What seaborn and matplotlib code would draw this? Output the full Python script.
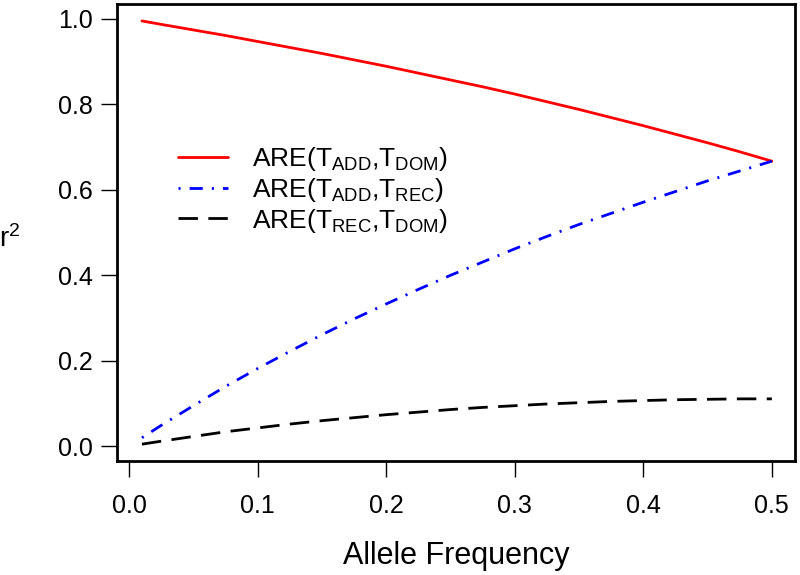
import pandas as pd
import seaborn as sns
import matplotlib.pyplot as plt

# allele frequency grid and r^2 values
allele_freq = [0.01, 0.025, 0.05, 0.075, 0.10, 0.125, 0.15, 0.175, 0.20, 0.225, 0.25,
               0.275, 0.30, 0.325, 0.35, 0.375, 0.40, 0.425, 0.45, 0.475, 0.50]
are_add_dom = [0.995, 0.987, 0.974, 0.961, 0.947, 0.933, 0.919, 0.904, 0.889, 0.873, 0.857,
               0.841, 0.824, 0.806, 0.788, 0.769, 0.750, 0.730, 0.710, 0.689, 0.667]
are_add_rec = [0.020, 0.049, 0.095, 0.140, 0.182, 0.222, 0.261, 0.298, 0.333, 0.367, 0.400,
               0.431, 0.462, 0.491, 0.519, 0.545, 0.571, 0.596, 0.621, 0.644, 0.667]
are_rec_dom = [0.005, 0.012, 0.023, 0.034, 0.043, 0.052, 0.060, 0.067, 0.074, 0.080, 0.086,
               0.091, 0.095, 0.099, 0.102, 0.105, 0.107, 0.109, 0.110, 0.111, 0.111]

labels = [r"ARE(T$_{\mathrm{ADD}}$,T$_{\mathrm{DOM}}$)",
          r"ARE(T$_{\mathrm{ADD}}$,T$_{\mathrm{REC}}$)",
          r"ARE(T$_{\mathrm{REC}}$,T$_{\mathrm{DOM}}$)"]
x_ticks = [0.0, 0.1, 0.2, 0.3, 0.4, 0.5]
y_ticks = [0.0, 0.2, 0.4, 0.6, 0.8, 1.0]

sns.set_style("ticks")
plt.rcParams["font.family"] = ["Liberation Sans", "DejaVu Sans"]
plt.rcParams["mathtext.fontset"] = "custom"
plt.rcParams["mathtext.rm"] = "Liberation Sans"
plt.rcParams["mathtext.it"] = "Liberation Sans:italic"
plt.rcParams["lines.scale_dashes"] = False
for key in ["text.color", "axes.labelcolor", "xtick.color", "ytick.color"]:
    plt.rcParams[key] = "black"

df = pd.DataFrame({"p": allele_freq, "add_dom": are_add_dom,
                   "add_rec": are_add_rec, "rec_dom": are_rec_dom})

fig = plt.figure(figsize=(8, 5.75), dpi=100)
ax = fig.add_axes([0.14625, 0.198, 0.8475, 0.795])

styles = [("add_dom", "#ff0000", "-"),
          ("add_rec", "#0000ff", (0, (1.5, 6.5, 9.5, 6.5))),
          ("rec_dom", "#000000", (0, (14, 7.5)))]
for (col, color, ls), lab in zip(styles, labels):
    sns.lineplot(data=df, x="p", y=col, color=color, linestyle=ls,
                 linewidth=2.0, label=lab, ax=ax)

ax.set_xlim(-0.0094, 0.518)
ax.set_ylim(-0.0347, 1.0346)
ax.set_xticks(x_ticks)
ax.set_xticklabels([f"{v:.1f}" for v in x_ticks])
ax.set_yticks(y_ticks)
ax.set_yticklabels([f"{v:.1f}" for v in y_ticks])
ax.tick_params(axis="both", direction="out", length=11.5, width=1.0,
               labelsize=18, pad=6)
ax.tick_params(axis="x", pad=12)
for s in ax.spines.values():
    s.set_linewidth(2.0)
    s.set_color("black")

ax.set_xlabel("Allele Frequency", fontsize=22, labelpad=17)
ax.set_ylabel(r"r$^{2}$", fontsize=20, rotation=0, labelpad=0)
ax.yaxis.set_label_coords(-0.158, 0.455)

leg = ax.legend(loc="upper left", bbox_to_anchor=(0.074, 0.714), frameon=False,
                fontsize=19, handlelength=1.9, handletextpad=0.9,
                labelspacing=0.1, borderaxespad=0)

fig.savefig("out.png", dpi=100)
